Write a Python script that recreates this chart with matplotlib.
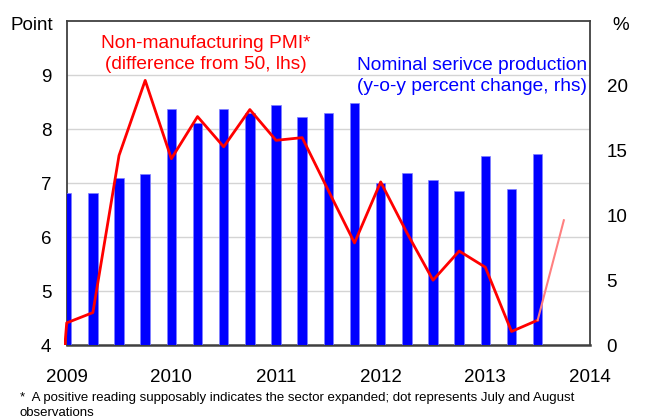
import numpy as np
import matplotlib.pyplot as plt
from matplotlib.patches import Rectangle

plt.rcParams['font.family'] = ['Liberation Sans', 'DejaVu Sans']

# quarterly observations, x in fractional years
bar_quarters = 2009 + 0.25 * np.arange(19)
service_yoy = [11.7, 11.7, 12.9, 13.2, 18.2, 17.1, 18.2, 17.9, 18.5, 17.6,
               17.9, 18.7, 12.5, 13.3, 12.7, 11.9, 14.6, 12.0, 14.7]

pmi_quarters = 2008.75 + 0.25 * np.arange(20)
pmi_diff = [-1.6, 4.41, 4.6, 7.51, 8.9, 7.45, 8.23, 7.67, 8.36, 7.79,
            7.84, 6.86, 5.89, 7.02, 6.08, 5.2, 5.74, 5.44, 4.25, 4.46]
# July-August reading
pmi_recent_x = [2013.5, 2013.75]
pmi_recent = [4.46, 6.31]

years = [2009, 2010, 2011, 2012, 2013, 2014]

fig = plt.figure(figsize=(6.45, 4.19), dpi=100)
ax = fig.add_axes([66.7 / 645, 74 / 419, 523.3 / 645, 324 / 419])
ax_bar = ax.twinx()
ax_line = ax.twinx()

ax.set_xlim(2009, 2014)
ax.set_ylim(4, 10)
ax.set_yticks([4, 5, 6, 7, 8, 9])
ax.set_xticks(years)
ax.set_xticklabels([str(y) for y in years])
ax.grid(axis='y', color='#d4d4d4', linewidth=1)
ax.tick_params(axis='y', length=0, pad=11, labelsize=13.5)
ax.tick_params(axis='x', length=0, pad=17.5, labelsize=13.5)
for s in ax.spines.values():
    s.set_color('#404040')
    s.set_linewidth(1.3)
ax.spines['bottom'].set_linewidth(1.8)

ax_bar.bar(bar_quarters, service_yoy, width=0.09, color='#0000ff',
           edgecolor='#7f7fff', linewidth=0.5)
ax_bar.set_ylim(0, 25)
ax_bar.set_yticks([0, 5, 10, 15, 20])
ax_bar.tick_params(axis='y', length=0, pad=12, labelsize=13.5)
for s in ax_bar.spines.values():
    s.set_visible(False)

ax_line.set_ylim(4, 10)
ax_line.set_yticks([])
for s in ax_line.spines.values():
    s.set_visible(False)
line, = ax_line.plot(pmi_quarters, pmi_diff, color='#ff0000', linewidth=2)
# let the first segment run a hair past the left edge
line.set_clip_path(Rectangle((-0.006, 0), 1.006, 1, transform=ax_line.transAxes))
ax_line.plot(pmi_recent_x, pmi_recent, color='#ff8080', linewidth=1.5)

fig.text(206 / 645, 1 - 54 / 419, 'Non-manufacturing PMI*\n(difference from 50, lhs)',
         color='#ff0000', fontsize=13.8, ha='center', va='center', linespacing=1.3)
fig.text(587 / 645, 1 - 76 / 419, 'Nominal serivce production\n(y-o-y percent change, rhs)',
         color='#0000ff', fontsize=13.8, ha='right', va='center', linespacing=1.3)

fig.text(11 / 645, 1 - 25 / 419, 'Point', fontsize=13.5, va='center', ha='left')
fig.text(612 / 645, 1 - 25 / 419, '%', fontsize=13.5, va='center', ha='left')

fig.text(20 / 645, 1 - 405.5 / 419,
         '*  A positive reading supposably indicates the sector expanded; dot represents July and August\nobservations',
         fontsize=9.5, va='center', ha='left', linespacing=1.4)

fig.savefig('out.png', dpi=100)
